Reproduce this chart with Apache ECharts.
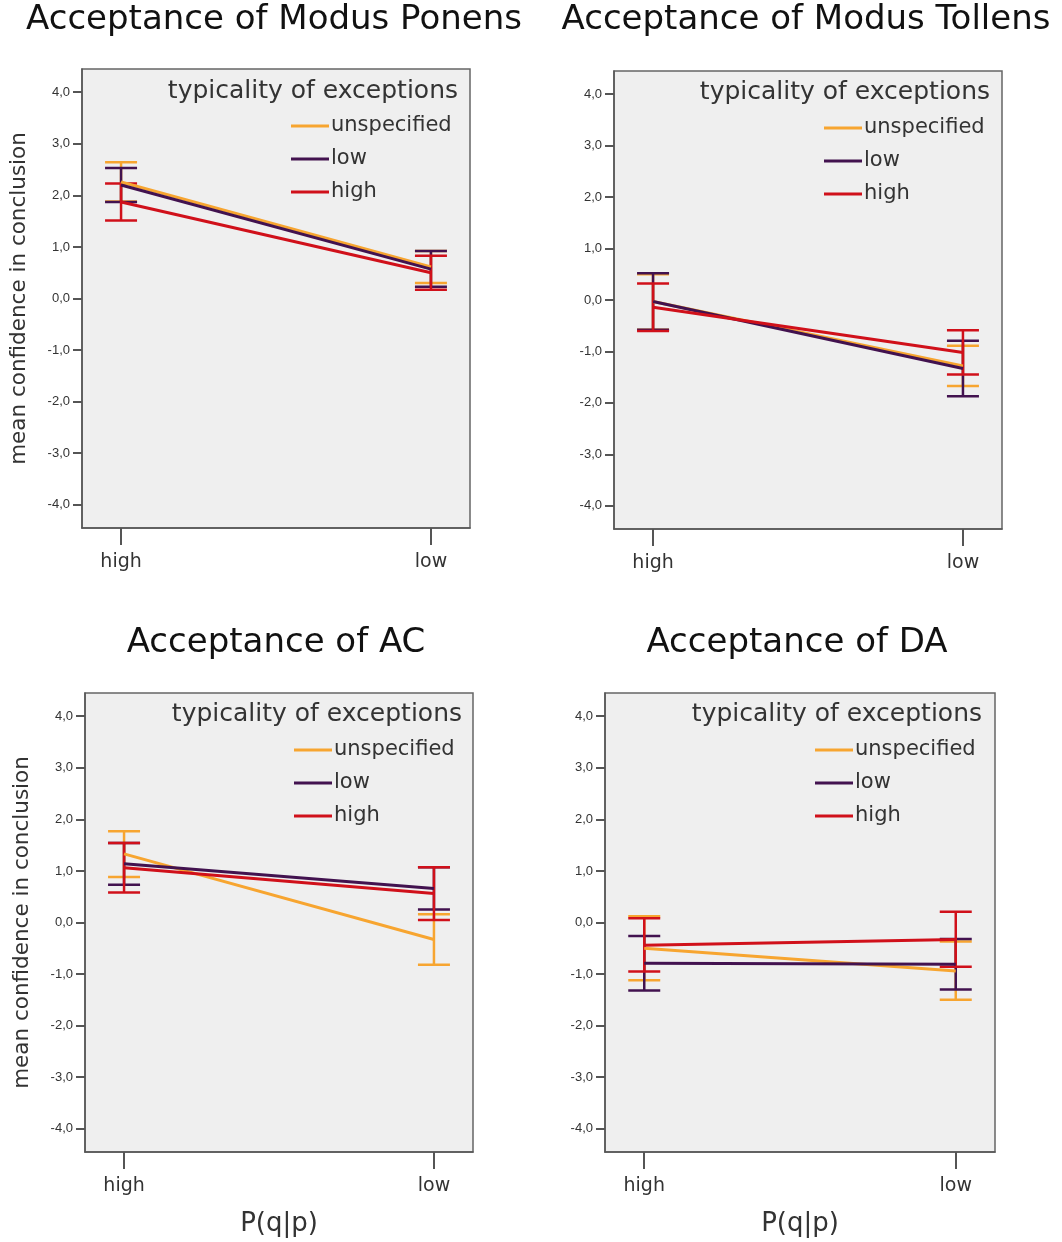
<!DOCTYPE html>
<html>
<head>
<meta charset="utf-8">
<script src="https://cdn.jsdelivr.net/npm/echarts@6/dist/echarts.min.js"></script>
<style>html,body{margin:0;padding:0;background:#fff;}#c{width:1062px;height:1242px;}</style>
</head>
<body>
<div id="c"></div>
<script>
// ---- data ----
const categories = ['high', 'low'];
const groupNames = ['unspecified', 'low', 'high'];
const yTicks = [-4, -3, -2, -1, 0, 1, 2, 3, 4];
const panelTitles = ['Acceptance of Modus Ponens', 'Acceptance of Modus Tollens', 'Acceptance of AC', 'Acceptance of DA'];

// Modus Ponens
const mpMeans = [[2.26, 0.61], [2.20, 0.57], [1.87, 0.50]];
const mpLower = [[1.88, 0.30], [1.87, 0.23], [1.51, 0.17]];
const mpUpper = [[2.64, 0.92], [2.53, 0.92], [2.23, 0.83]];
// Modus Tollens
const mtMeans = [[-0.03, -1.28], [-0.03, -1.33], [-0.14, -1.02]];
const mtLower = [[-0.58, -1.67], [-0.58, -1.87], [-0.60, -1.45]];
const mtUpper = [[0.50, -0.89], [0.52, -0.79], [0.32, -0.59]];
// AC
const acMeans = [[1.33, -0.33], [1.14, 0.66], [1.06, 0.56]];
const acLower = [[0.88, -0.82], [0.73, 0.25], [0.58, 0.05]];
const acUpper = [[1.77, 0.16], [1.54, 1.07], [1.54, 1.07]];
// DA
const daMeans = [[-0.50, -0.94], [-0.79, -0.81], [-0.44, -0.33]];
const daLower = [[-1.12, -1.50], [-1.32, -1.30], [-0.95, -0.86]];
const daUpper = [[0.12, -0.37], [-0.26, -0.32], [0.08, 0.21]];

const panels = [
  {means: mpMeans, lower: mpLower, upper: mpUpper},
  {means: mtMeans, lower: mtLower, upper: mtUpper},
  {means: acMeans, lower: acLower, upper: acUpper},
  {means: daMeans, lower: daLower, upper: daUpper}
];

// ---- layout / style ----
const colors = ['#F7A530', '#42124F', '#D0101A'];
const grids = [
  {left: 82, top: 69, width: 388, height: 459},
  {left: 614, top: 71, width: 388, height: 458},
  {left: 85, top: 693, width: 388, height: 459},
  {left: 605, top: 693, width: 390, height: 459}
];
const titlePos = [[274, 20], [806, 20], [276, 643], [797, 643]];
const legTitlePos = [[458, 91], [990, 92], [462, 714], [982, 714]];
const legendPos = [[291, 114], [824, 116], [294, 738], [815, 738]];
const titleFont = '"DejaVu Sans", sans-serif';

const chart = echarts.init(document.getElementById('c'), null, {renderer: 'canvas'});

const option = {
  backgroundColor: '#fff',
  animation: false,
  grid: grids.map(g => Object.assign({show: true, backgroundColor: '#efefef', borderColor: '#666', borderWidth: 1.5, containLabel: false}, g)),
  xAxis: grids.map((g, i) => ({
    type: 'value', gridIndex: i, min: -0.126, max: 1.126,
    splitLine: {show: false},
    axisLine: {show: true, onZero: false, lineStyle: {color: '#555', width: 1.5}},
    axisTick: {show: true, length: 17, customValues: [0, 1], lineStyle: {color: '#555', width: 2}},
    axisLabel: {customValues: [0, 1], formatter: v => categories[Math.round(v)], fontSize: 19, color: '#333', margin: 25, fontFamily: titleFont},
    name: i >= 2 ? 'P(q|p)' : '',
    nameLocation: 'middle', nameGap: 59, nameMoveOverlap: false,
    nameTextStyle: {fontSize: 26, color: '#333', fontFamily: titleFont}
  })),
  yAxis: grids.map((g, i) => ({
    type: 'value', gridIndex: i, min: -4.45, max: 4.45,
    splitLine: {show: false},
    axisLine: {show: true, onZero: false, lineStyle: {color: '#555', width: 1.5}},
    axisTick: {show: true, length: 9, customValues: yTicks, lineStyle: {color: '#555', width: 2}},
    axisLabel: {customValues: yTicks, formatter: v => v.toFixed(1).replace('.', ','), fontSize: 13, color: '#333', margin: 12, fontFamily: '"Liberation Sans", Arial, sans-serif'},
    name: (i === 0 || i === 2) ? 'mean confidence in conclusion' : '',
    nameLocation: 'middle', nameGap: 52, nameRotate: 90, nameMoveOverlap: false,
    nameTextStyle: {fontSize: 21.5, color: '#333', fontFamily: titleFont}
  })),
  legend: legendPos.map(p => ({
    data: groupNames, orient: 'vertical', left: p[0], top: p[1], padding: 0,
    itemWidth: 38, itemHeight: 3, itemGap: 9, icon: 'rect',
    selectedMode: false,
    textStyle: {fontSize: 21, color: '#333', fontFamily: titleFont, lineHeight: 24, padding: [0, 0, 0, -3]}
  })),
  graphic: [].concat(
    titlePos.map((p, i) => ({type: 'text', x: p[0], y: p[1], style: {text: panelTitles[i], fill: '#111', font: '34px ' + titleFont, textAlign: 'center', textVerticalAlign: 'middle'}})),
    legTitlePos.map(p => ({type: 'text', x: p[0], y: p[1], z: 10, style: {text: 'typicality of exceptions', fill: '#333', font: '25px ' + titleFont, textAlign: 'right', textVerticalAlign: 'middle'}}))
  ),
  series: []
};

function errRender(params, api) {
  const x = api.value(0);
  const pLo = api.coord([x, api.value(1)]);
  const pHi = api.coord([x, api.value(2)]);
  const half = 16;
  const st = {stroke: api.visual('color'), lineWidth: 2.5};
  return {type: 'group', children: [
    {type: 'line', shape: {x1: pLo[0], y1: pLo[1], x2: pHi[0], y2: pHi[1]}, style: st},
    {type: 'line', shape: {x1: pLo[0] - half, y1: pLo[1], x2: pLo[0] + half, y2: pLo[1]}, style: st},
    {type: 'line', shape: {x1: pHi[0] - half, y1: pHi[1], x2: pHi[0] + half, y2: pHi[1]}, style: st}
  ]};
}

panels.forEach((pd, pi) => {
  groupNames.forEach((gname, gi) => {
    option.series.push({
      type: 'custom', name: gname, xAxisIndex: pi, yAxisIndex: pi,
      renderItem: errRender, itemStyle: {color: colors[gi]}, z: 2 + gi,
      encode: {x: 0, y: [1, 2]},
      data: categories.map((c, ci) => [ci, pd.lower[gi][ci], pd.upper[gi][ci]])
    });
  });
  groupNames.forEach((gname, gi) => {
    option.series.push({
      type: 'line', name: gname, xAxisIndex: pi, yAxisIndex: pi,
      symbol: 'none', z: 6 + gi,
      lineStyle: {color: colors[gi], width: 3},
      itemStyle: {color: colors[gi]},
      data: categories.map((c, ci) => [ci, pd.means[gi][ci]])
    });
  });
});

chart.setOption(option);
</script>
</body>
</html>
